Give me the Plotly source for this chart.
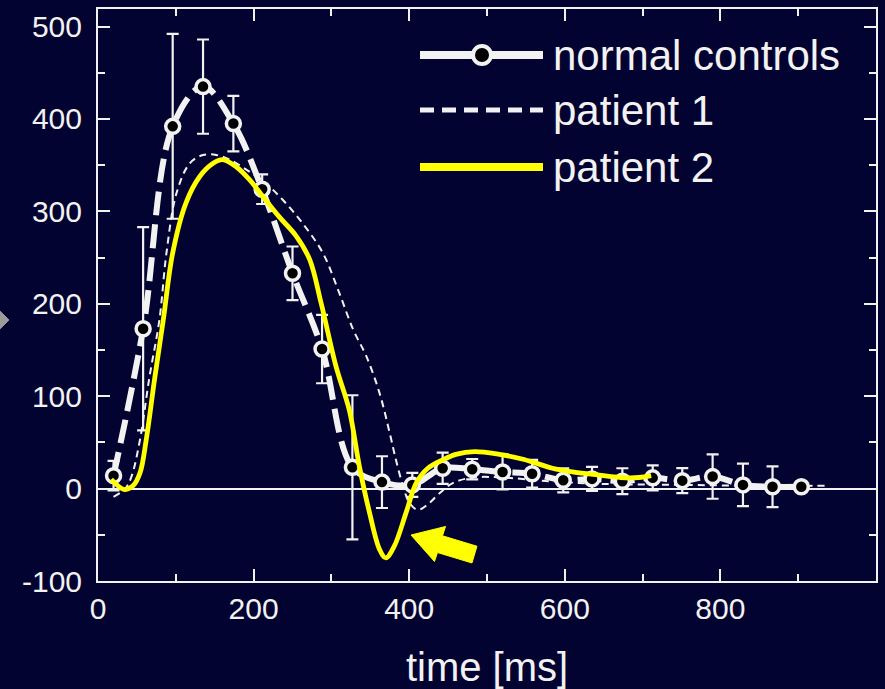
import plotly.graph_objects as go

# ---------------- data ----------------
ctrl_t = [20, 58, 96, 135, 174, 211, 250, 288, 327, 365, 404, 443, 481, 520,
          558, 598, 635, 674, 713, 751, 790, 829, 867, 904]
ctrl_v = [14, 173, 392, 435, 395, 324, 233, 151, 23, 7, 4, 22, 21, 18,
          16, 9, 10.5, 8, 11.6, 8.6, 13, 4, 2, 2]
ctrl_err = [16, 110, 100, 51, 30, 16, 29, 37, 78, 28, 13, 17, 11, 19,
            15, 13, 13, 14, 13.5, 13.5, 24, 23, 22, 5]

p1_t = [20, 35, 43, 54, 66, 79, 88, 101, 118, 135, 152, 169, 191, 216, 238,
        263, 289, 310, 328, 345, 362, 375, 383, 392, 400, 411, 424, 439, 456,
        482, 520, 580, 650, 750, 850, 940]
p1_v = [-9, 0, 13, 53, 120, 183, 255, 320, 352, 361, 361, 356, 345, 330, 312,
        287, 255, 212, 172, 143, 103, 60, 31, 3, -15, -23, -17, -5, 6,
        12, 12, 8, 5, 4, 3, 3]

p2_t = [17, 34, 45, 54, 62, 73, 84, 96, 113, 131, 148, 160, 178, 195, 212,
        233, 255, 272, 287, 306, 323, 336, 349, 362, 370, 381, 396, 409, 424,
        443, 460, 484, 516, 545, 565, 584, 610, 640, 672, 695, 711]
p2_v = [10, -1, 3, 17, 53, 120, 183, 255, 309, 338, 352, 356, 348, 334, 316,
        294, 273, 248, 200, 132, 85, 24, -26, -66, -75, -62, -26, 6, 22,
        31, 37, 40, 37, 32, 27, 22, 18, 15, 12, 12, 14]

x_ticks = [0, 200, 400, 600, 800]
x_ticklabels = ["0", "200", "400", "600", "800"]
y_ticks = [-100, 0, 100, 200, 300, 400, 500]
y_ticklabels = ["-100", "0", "100", "200", "300", "400", "500"]
legend_names = ["normal controls", "patient 1", "patient 2"]
x_title = "time [ms]"

# ---------------- style ----------------
BG = "#030331"
FG = "#f2f2f2"
YEL = "#ffff00"
FONT = "Liberation Sans, Arial, sans-serif"
W, H = 885, 689
L, R, T, B = 98, 9, 9, 108
PW, PH = W - L - R, H - T - B


def px2paper(px, py):
    return (px - L) / PW, (H - B - py) / PH


def poly_path(pts):
    pp = [px2paper(x, y) for x, y in pts]
    return "M " + " L ".join(f"{x:.4f},{y:.4f}" for x, y in pp) + " Z"


fig = go.Figure()

# normal controls line (smooth, thick, broken)
fig.add_trace(go.Scatter(
    x=ctrl_t, y=ctrl_v, mode="lines",
    line=dict(color=FG, width=6, shape="spline", dash="24px,9px"),
    hoverinfo="skip", showlegend=False))

# patient 1
fig.add_trace(go.Scatter(
    x=p1_t, y=p1_v, mode="lines",
    line=dict(color=FG, width=2, shape="spline", dash="7px,5px"),
    showlegend=False))

# normal controls markers + error bars
fig.add_trace(go.Scatter(
    x=ctrl_t, y=ctrl_v, mode="markers",
    marker=dict(size=14, color="black", line=dict(color=FG, width=3.5)),
    error_y=dict(type="data", array=ctrl_err, visible=True,
                 color=FG, thickness=2.2, width=6),
    showlegend=False))

# patient 2
fig.add_trace(go.Scatter(
    x=p2_t, y=p2_v, mode="lines",
    line=dict(color=YEL, width=4.8, shape="spline"),
    showlegend=False))

shapes = []
annotations = []

# ---- manual legend ----
rows_y = [55, 110, 167]
lx0, lx1, lmid, ltext = 420, 543, 482, 551
x0, y0 = px2paper(lx0, rows_y[0]); x1, _ = px2paper(lx1, rows_y[0])
shapes.append(dict(type="line", xref="paper", yref="paper", x0=x0, x1=x1, y0=y0, y1=y0,
                   line=dict(color=FG, width=8)))
cx0, cy0 = px2paper(lmid - 9, rows_y[0] - 9)
cx1, cy1 = px2paper(lmid + 9, rows_y[0] + 9)
shapes.append(dict(type="circle", xref="paper", yref="paper", x0=cx0, x1=cx1, y0=cy0, y1=cy1,
                   fillcolor="black", line=dict(color=FG, width=4)))
x0, y0 = px2paper(lx0, rows_y[1]); x1, _ = px2paper(lx1, rows_y[1])
shapes.append(dict(type="line", xref="paper", yref="paper", x0=x0, x1=x1, y0=y0, y1=y0,
                   line=dict(color=FG, width=5, dash="14px,8px")))
x0, y0 = px2paper(lx0, rows_y[2]); x1, _ = px2paper(lx1, rows_y[2])
shapes.append(dict(type="line", xref="paper", yref="paper", x0=x0, x1=x1, y0=y0, y1=y0,
                   line=dict(color=YEL, width=8)))
for name, ry in zip(legend_names, rows_y):
    tx, ty = px2paper(ltext, ry)
    annotations.append(dict(text=name, xref="paper", yref="paper", x=tx, y=ty,
                            xanchor="left", yanchor="middle", showarrow=False,
                            font=dict(family=FONT, size=42, color=FG)))

# ---- yellow block arrow pointing at the dip ----
arrow = [(411, 535), (445.5, 526.5), (442.5, 535.8), (477.0, 546.2), (472.0, 563.0),
         (437.5, 552.6), (434.5, 561.5)]
shapes.append(dict(type="path", xref="paper", yref="paper", path=poly_path(arrow),
                   fillcolor=YEL, line=dict(color=YEL, width=1), layer="above"))

# ---- small grey pointer at left edge ----
tri = [(0, 311), (9, 320), (0, 329)]
shapes.append(dict(type="path", xref="paper", yref="paper", path=poly_path(tri),
                   fillcolor="#9a9a9a", line=dict(color="#9a9a9a", width=1)))

axis_common = dict(
    showline=True, linecolor=FG, linewidth=2, mirror="ticks",
    ticks="inside", ticklen=12, tickwidth=2, tickcolor=FG,
    showgrid=False, automargin=False,
    tickfont=dict(family=FONT, size=30, color=FG),
)

fig.update_layout(
    width=W, height=H,
    margin=dict(l=L, r=R, t=T, b=B, autoexpand=False),
    paper_bgcolor=BG, plot_bgcolor=BG,
    showlegend=False,
    shapes=shapes,
    annotations=annotations,
    xaxis=dict(
        **axis_common,
        range=[0, 1000],
        tickmode="array", tickvals=x_ticks, ticktext=x_ticklabels,
        ticklabelstandoff=0,
        minor=dict(dtick=100, tick0=0, ticks="inside", ticklen=7, tickwidth=2, tickcolor=FG),
        zeroline=False,
        title=dict(text=x_title, font=dict(family=FONT, size=40, color=FG), standoff=30),
    ),
    yaxis=dict(
        **axis_common,
        range=[-100, 519],
        tickmode="array", tickvals=y_ticks, ticktext=y_ticklabels,
        ticklabelstandoff=8,
        minor=dict(dtick=50, tick0=0, ticks="inside", ticklen=7, tickwidth=2, tickcolor=FG),
        zeroline=True, zerolinecolor=FG, zerolinewidth=2,
    ),
)

fig.write_html(
    "out.html",
    config={"displayModeBar": False},
    post_script="document.body.style.margin='0';document.body.style.background='#030331';",
)
